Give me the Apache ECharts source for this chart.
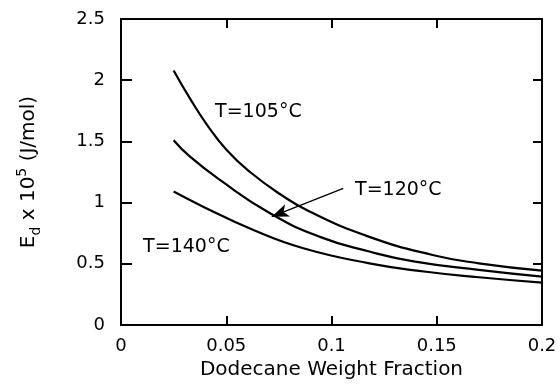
<!DOCTYPE html>
<html>
<head>
    <meta charset="utf-8">
    <title>Ed vs dodecane weight fraction</title>
    <script src="https://cdn.jsdelivr.net/npm/echarts@6/dist/echarts.min.js"></script>
    <style>
        html, body { margin: 0; padding: 0; background: #fff; }
        #chart { width: 560px; height: 385px; }
    </style>
</head>
<body>
<div id="chart"></div>
<script>
    // curves (x = weight fraction, y = Ed x 1e-5)
    var x105 = [0.025, 0.0328, 0.0407, 0.0502, 0.0613, 0.0755, 0.0898, 0.118, 0.148, 0.17, 0.2];
    var y105 = [2.08, 1.85, 1.64, 1.43, 1.25, 1.07, 0.925, 0.72, 0.572, 0.504, 0.444];
    var x120 = [0.025, 0.0328, 0.047, 0.0708, 0.0945, 0.118, 0.139, 0.17, 0.2];
    var y120 = [1.51, 1.375, 1.185, 0.913, 0.72, 0.60, 0.52, 0.45, 0.395];
    var x140 = [0.025, 0.039, 0.0629, 0.0866, 0.118, 0.145, 0.17, 0.2];
    var y140 = [1.09, 0.967, 0.776, 0.627, 0.504, 0.435, 0.39, 0.346];

    var labelNames = ['T=105°C', 'T=120°C', 'T=140°C'];
    var labelAt = [[0.0447, 1.74], [0.1112, 1.103], [0.0105, 0.64]];
    var arrowFrom = [0.1056, 1.117];
    var arrowTo = [0.0716, 0.885];

    var xTicks = [0, 0.05, 0.1, 0.15, 0.2];
    var yTicks = [0, 0.5, 1, 1.5, 2, 2.5];

    function pairs(xs, ys) {
        return xs.map(function (x, i) { return [x, ys[i]]; });
    }

    var font = 'DejaVu Sans';
    var chart = echarts.init(document.getElementById('chart'), null, { renderer: 'canvas' });

    var boxLine = { show: true, onZero: false, lineStyle: { color: '#000', width: 2 } };

    var boxAxis = {
        type: 'value',
        min: xTicks[0],
        max: xTicks[xTicks.length - 1],
        interval: 0.05,
        axisLine: boxLine,
        axisTick: { show: true, inside: true, length: 9, lineStyle: { color: '#000', width: 2 } },
        splitLine: { show: false }
    };

    var curve = {
        type: 'line',
        smooth: 0.5,
        showSymbol: false,
        silent: true,
        lineStyle: { color: '#000', width: 2.2 }
    };

    var option = {
        backgroundColor: '#fff',
        animation: false,
        grid: { left: 121, right: 18, top: 19, bottom: 60, containLabel: false },
        xAxis: [
            Object.assign({}, boxAxis, {
                position: 'bottom',
                name: 'Dodecane Weight Fraction',
                nameLocation: 'middle',
                nameGap: 33,
                nameTextStyle: { color: '#000', fontFamily: font, fontSize: 20 },
                axisLabel: {
                    color: '#000', fontFamily: font, fontSize: 18, margin: 12,
                    formatter: function (v) { return String(v); }
                }
            }),
            Object.assign({}, boxAxis, { position: 'top', axisLabel: { show: false } })
        ],
        yAxis: [
            {
                type: 'value',
                position: 'left',
                min: yTicks[0],
                max: yTicks[yTicks.length - 1],
                interval: 0.5,
                axisLine: boxLine,
                axisTick: { show: true, inside: true, length: 11, lineStyle: { color: '#000', width: 2 } },
                splitLine: { show: false },
                axisLabel: {
                    color: '#000', fontFamily: font, fontSize: 18, margin: 16,
                    formatter: function (v) { return String(v); }
                },
                name: '{m|E}{sub|d}{m| x 10}{sup|5}{m| (J/mol)}',
                nameLocation: 'middle',
                nameRotate: 90,
                nameGap: 78,
                nameTextStyle: {
                    color: '#000',
                    rich: {
                        m: { fontFamily: font, fontSize: 20, color: '#000', lineHeight: 28, verticalAlign: 'middle' },
                        sub: { fontFamily: font, fontSize: 14, color: '#000', lineHeight: 14, verticalAlign: 'bottom' },
                        sup: { fontFamily: font, fontSize: 14, color: '#000', lineHeight: 14, verticalAlign: 'top' }
                    }
                }
            },
            {
                type: 'value',
                position: 'right',
                min: yTicks[0],
                max: yTicks[yTicks.length - 1],
                interval: 0.5,
                axisLine: boxLine,
                axisTick: { show: true, inside: true, length: 9, lineStyle: { color: '#000', width: 2 } },
                splitLine: { show: false },
                axisLabel: { show: false }
            }
        ],
        series: [
            Object.assign({}, curve, { name: labelNames[0], data: pairs(x105, y105) }),
            Object.assign({}, curve, {
                name: labelNames[1],
                data: pairs(x120, y120),
                markLine: {
                    silent: true,
                    animation: false,
                    label: { show: false },
                    lineStyle: { color: '#000', width: 1.3, type: 'solid' },
                    symbolSize: [10, 17],
                    data: [[
                        { coord: arrowFrom, symbol: 'none' },
                        { coord: arrowTo, symbol: 'arrow' }
                    ]]
                }
            }),
            Object.assign({}, curve, { name: labelNames[2], data: pairs(x140, y140) }),
            {
                type: 'scatter',
                symbolSize: 0,
                silent: true,
                data: labelAt.map(function (p, i) { return [p[0], p[1], labelNames[i]]; }),
                label: {
                    show: true,
                    position: 'right',
                    distance: 0,
                    color: '#000',
                    opacity: 1,
                    textBorderWidth: 0,
                    fontFamily: font,
                    fontSize: 19,
                    formatter: function (p) { return p.data[2]; }
                }
            }
        ]
    };

    chart.setOption(option);

    window.onresize = function () {
        chart.resize();
    };
</script>
</body>
</html>
